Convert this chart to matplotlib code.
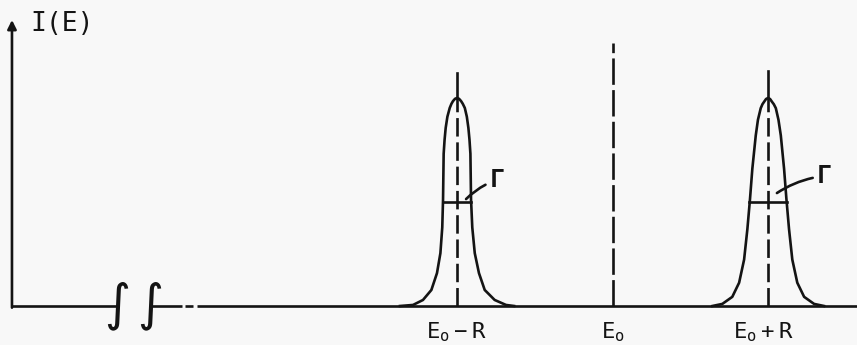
import numpy as np
import matplotlib.pyplot as plt

plt.rcParams['font.family'] = ['DejaVu Sans Mono', 'DejaVu Sans']
plt.rcParams['mathtext.default'] = 'regular'

INK = '#141414'

# energies in units of the recoil shift R, E0 at zero
E0 = 0.0
R = 1.0

# line profile of the lower satellite (offset from centre, relative intensity)
low_dx = [-0.367, -0.283, -0.219, -0.165, -0.129, -0.107, -0.095, -0.090,
          -0.086, -0.080, -0.073, -0.062, -0.047, -0.036, -0.026, -0.013,
          0.0, 0.013, 0.026, 0.037, 0.050, 0.063, 0.073, 0.080, 0.086, 0.090,
          0.098, 0.114, 0.141, 0.178, 0.242, 0.315, 0.367]
low_h = [0.0, 0.005, 0.029, 0.077, 0.158, 0.254, 0.378, 0.512, 0.732, 0.800,
         0.856, 0.910, 0.952, 0.972, 0.985, 0.996, 1.0, 0.996, 0.985, 0.972,
         0.952, 0.910, 0.856, 0.800, 0.732, 0.512, 0.378, 0.254, 0.158, 0.077,
         0.029, 0.005, 0.0]

# line profile of the upper satellite
high_dx = [-0.358, -0.294, -0.230, -0.186, -0.154, -0.133, -0.116, -0.101,
           -0.079, -0.065, -0.047, -0.036, -0.026, -0.013, 0.0, 0.013, 0.026,
           0.037, 0.050, 0.067, 0.082, 0.103, 0.118, 0.135, 0.156, 0.188,
           0.232, 0.296, 0.360]
high_h = [0.0, 0.010, 0.044, 0.112, 0.223, 0.369, 0.515, 0.660, 0.820, 0.895,
          0.951, 0.970, 0.981, 0.995, 1.0, 0.995, 0.981, 0.970, 0.951, 0.895,
          0.820, 0.660, 0.515, 0.369, 0.223, 0.112, 0.044, 0.010, 0.0]

# full widths at half maximum
fwhm = [0.180, 0.246]
# heights reached by the marker lines
marker_top = [1.12, 1.13]
e0_top = 1.264

labels = ['$E_o - R$', '$E_o$', '$E_o + R$']
label_x = [E0 - R, E0, E0 + R - 0.03]

# axis geometry
axis_x = -3.862
axis_top = 1.375
base_segments = [(axis_x, -3.186), (-2.974, -2.768), (-2.749, -2.698),
                 (-2.672, 1.572)]
break_x = [-3.186, -2.974]

fig = plt.figure(figsize=(8.57, 3.45), dpi=100, facecolor='#f8f8f8')
ax = fig.add_axes([0, 0, 1, 1])
ax.set_facecolor('#f8f8f8')
ax.set_xlim(-3.939, 1.572)
ax.set_ylim(-0.1875, 1.471)
ax.axis('off')

lw = 1.9

# baseline with the break
for a, b in base_segments:
    ax.plot([a, b], [0, 0], color=INK, lw=lw, solid_capstyle='butt')
for bx in break_x:
    ax.text(bx, 0.0, '\u222b', fontsize=36, family='DejaVu Sans',
            style='italic', ha='center', va='center', color=INK)

# intensity axis
ax.annotate('', xy=(axis_x, axis_top), xytext=(axis_x, -0.008),
            arrowprops=dict(arrowstyle='-|>', lw=lw, color=INK,
                            mutation_scale=13, shrinkA=0, shrinkB=0))
ax.text(axis_x + 0.12, 1.32, 'I(E)', fontsize=19, color=INK,
        ha='left', va='baseline')

# unshifted position
ax.plot([E0, E0], [0, e0_top], color=INK, lw=lw, dashes=(10, 2))

centres = [E0 - R, E0 + R]
profiles = [(low_dx, low_h), (high_dx, high_h)]
gamma_pos = [(0.257, 0.606), (0.362, 0.625)]
gamma_tip = [(0.058, 0.514), (0.057, 0.543)]

for c, (dx, h), w, top, gp, tip in zip(centres, profiles, fwhm, marker_top,
                                        gamma_pos, gamma_tip):
    ax.plot(c + np.array(dx), h, color=INK, lw=lw, solid_joinstyle='round')
    ax.plot([c, c], [0, 1.0], color=INK, lw=lw, dashes=(7, 2.2))
    ax.plot([c, c], [1.0, top], color=INK, lw=lw)
    ax.plot([c - w / 2, c + w / 2], [0.5, 0.5], color=INK, lw=lw)
    ax.annotate('\u0393', xy=(c + tip[0], tip[1]),
                xytext=(c + gp[0], gp[1]), fontsize=18, color=INK,
                fontweight='bold', ha='center', va='center',
                arrowprops=dict(arrowstyle='-', lw=lw, color=INK,
                                connectionstyle='arc3,rad=0.12',
                                shrinkA=1, shrinkB=0))

for x, s in zip(label_x, labels):
    ax.text(x, -0.155, s, fontsize=16, color=INK, ha='center',
            va='baseline')

fig.savefig('out.png', dpi=100, facecolor=fig.get_facecolor())
